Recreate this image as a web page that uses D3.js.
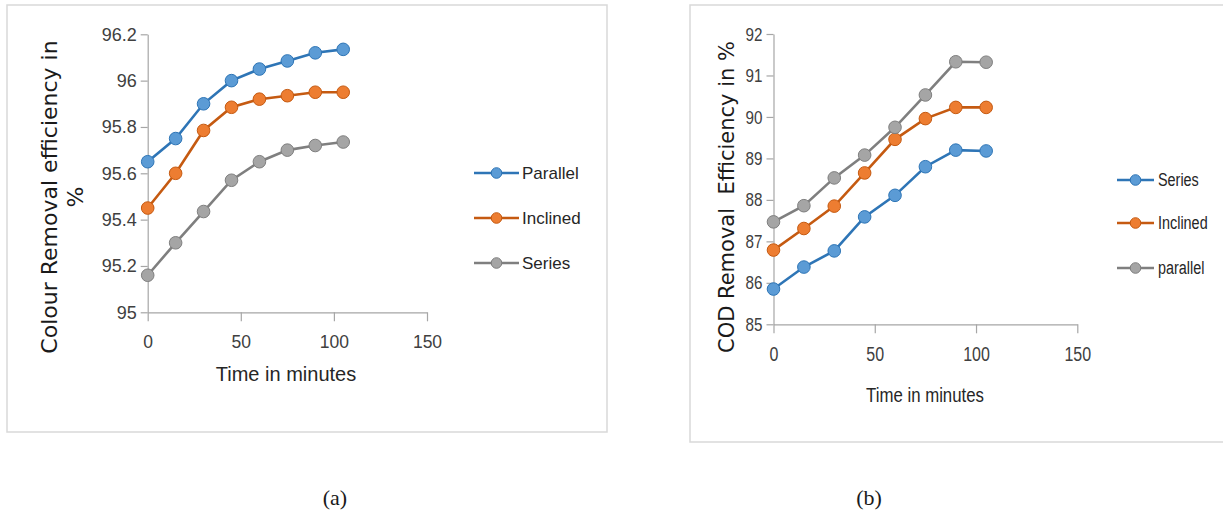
<!DOCTYPE html>
<html>
<head>
<meta charset="utf-8">
<script src="https://cdn.jsdelivr.net/npm/d3@7"></script>
<style>
  body { margin: 0; background: #fff; }
  svg text { white-space: pre; }
</style>
</head>
<body>
<script>
// time axis (minutes)
const timeMin = [0, 15, 30, 45, 60, 75, 90, 105];

// (a) colour removal efficiency, %
const colourParallel = [95.65, 95.75, 95.9, 96.0, 96.05, 96.085, 96.12, 96.135];
const colourInclined = [95.45, 95.6, 95.785, 95.885, 95.92, 95.935, 95.95, 95.95];
const colourSeries = [95.16, 95.3, 95.435, 95.57, 95.65, 95.7, 95.72, 95.735];

// (b) COD removal efficiency, %
const codSeries = [85.85, 86.38, 86.77, 87.59, 88.11, 88.8, 89.2, 89.18];
const codInclined = [86.79, 87.31, 87.85, 88.65, 89.46, 89.96, 90.23, 90.23];
const codParallel = [87.47, 87.86, 88.53, 89.08, 89.75, 90.53, 91.33, 91.32];

const xTicks = [0, 50, 100, 150];
const colourTicks = [95, 95.2, 95.4, 95.6, 95.8, 96, 96.2];
const codTicks = [85, 86, 87, 88, 89, 90, 91, 92];

const width = 1223, height = 517;

const blue = { line: '#2e75b6', fill: '#5b9bd5' };
const orange = { line: '#c55a11', fill: '#ed7d31' };
const grey = { line: '#7f7f7f', fill: '#a5a5a5' };

const sans = '"Liberation Sans", Arial, sans-serif';

let svg = d3
  .select('body')
  .append('svg')
  .attr('width', width)
  .attr('height', height)
  .style('background-color', '#fff');

// the (b) chart uses a condensed face; squeeze glyphs horizontally
function squeeze(sel, k) {
  if (k === 1) return;
  sel.each(function () {
    const w = this.getComputedTextLength();
    d3.select(this).attr('textLength', w * k).attr('lengthAdjust', 'spacingAndGlyphs');
  });
}

function drawPanel(p) {
  const g = svg.append('g');

  // outer frame of the chart area
  g.append('rect')
    .attr('x', p.frame[0])
    .attr('y', p.frame[1])
    .attr('width', p.frame[2])
    .attr('height', p.frame[3])
    .attr('fill', 'none')
    .attr('stroke', '#d9d9d9')
    .attr('stroke-width', 1.5);

  const x = d3.scaleLinear().domain([0, 150]).range(p.xRange);
  const y = d3.scaleLinear().domain(p.yDomain).range(p.yRange);

  const xAxis = g.append('g')
    .attr('transform', 'translate(0,' + p.yRange[0] + ')')
    .call(d3.axisBottom(x).tickValues(xTicks).tickSize(9).tickSizeOuter(0).tickPadding(p.xPad));
  const yAxis = g.append('g')
    .attr('transform', 'translate(' + p.xRange[0] + ',0)')
    .call(d3.axisLeft(y).tickValues(p.yTicks).tickSize(7).tickSizeOuter(0).tickPadding(p.yPad)
      .tickFormat(d => String(+d.toFixed(1))));

  [xAxis, yAxis].forEach(a => {
    a.selectAll('path, line').attr('stroke', '#a6a6a6').attr('stroke-width', 1.2);
    a.selectAll('text').attr('fill', '#404040').style('font-family', sans);
  });
  xAxis.selectAll('text').style('font-size', p.xTickSize + 'px');
  yAxis.selectAll('text').style('font-size', p.yTickSize + 'px');
  squeeze(xAxis.selectAll('text'), p.squeeze);
  squeeze(yAxis.selectAll('text'), p.squeeze);

  // axis titles
  const xt = g.append('text')
    .attr('x', p.xTitle[0])
    .attr('y', p.xTitle[1])
    .attr('text-anchor', 'middle')
    .attr('fill', '#262626')
    .style('font', p.xTitleSize + 'px ' + sans)
    .text('Time in minutes');
  squeeze(xt, p.squeeze);

  p.yTitle.forEach(t => {
    g.append('text')
      .attr('transform', 'translate(' + t.x + ',' + t.y + ') rotate(-90)')
      .attr('text-anchor', 'middle')
      .attr('fill', '#1a1a1a')
      .style('font', t.size + 'px "DejaVu Sans", Verdana, sans-serif')
      .text(t.label);
  });

  const line = d3.line().x((d, i) => x(timeMin[i])).y(d => y(d));

  p.series.forEach(s => {
    g.append('path')
      .datum(s.values)
      .attr('d', line)
      .attr('fill', 'none')
      .attr('stroke', s.color.line)
      .attr('stroke-width', 2.6);
    g.selectAll(null)
      .data(s.values)
      .enter()
      .append('circle')
      .attr('cx', (d, i) => x(timeMin[i]))
      .attr('cy', d => y(d))
      .attr('r', 6.3)
      .attr('fill', s.color.fill)
      .attr('stroke', s.color.line)
      .attr('stroke-width', 1);
  });

  // legend
  p.series.forEach((s, i) => {
    const ly = p.legend.rows[i];
    const lg = g.append('g');
    lg.append('line')
      .attr('x1', p.legend.x1)
      .attr('x2', p.legend.x2)
      .attr('y1', ly)
      .attr('y2', ly)
      .attr('stroke', s.color.line)
      .attr('stroke-width', 2.6);
    lg.append('circle')
      .attr('cx', (p.legend.x1 + p.legend.x2) / 2)
      .attr('cy', ly)
      .attr('r', 5.3)
      .attr('fill', s.color.fill)
      .attr('stroke', s.color.line)
      .attr('stroke-width', 1);
    const lt = lg.append('text')
      .attr('x', p.legend.tx)
      .attr('y', ly)
      .attr('dy', '0.35em')
      .attr('fill', '#262626')
      .style('font', p.legend.size + 'px ' + sans)
      .text(s.name);
    squeeze(lt, p.squeeze);
  });
}

// (a)
drawPanel({
  frame: [7, 5, 600, 427],
  xRange: [147.7, 427],
  yDomain: [95, 96.2],
  yRange: [312.3, 34.3],
  yTicks: colourTicks,
  squeeze: 1,
  xTickSize: 17.5,
  yTickSize: 18,
  xPad: 14,
  yPad: 4,
  xTitle: [286, 381],
  xTitleSize: 20,
  yTitle: [
    { x: 57, y: 197, size: 22, label: 'Colour Removal efficiency in' },
    { x: 83, y: 197, size: 22, label: '%' }
  ],
  series: [
    { name: 'Parallel', values: colourParallel, color: blue },
    { name: 'Inclined', values: colourInclined, color: orange },
    { name: 'Series', values: colourSeries, color: grey }
  ],
  legend: { rows: [173, 218, 263], x1: 474, x2: 519, tx: 522, size: 17 }
});

// (b)
drawPanel({
  frame: [690, 5, 545, 437],
  xRange: [773.5, 1077.3],
  yDomain: [85, 92],
  yRange: [324.3, 34],
  yTicks: codTicks,
  squeeze: 0.8,
  xTickSize: 20,
  yTickSize: 19,
  xPad: 14,
  yPad: 4,
  xTitle: [925, 402],
  xTitleSize: 21,
  yTitle: [
    { x: 734, y: 197, size: 21, label: 'COD Removal  Efficiency in %' }
  ],
  series: [
    { name: 'Series', values: codSeries, color: blue },
    { name: 'Inclined', values: codInclined, color: orange },
    { name: 'parallel', values: codParallel, color: grey }
  ],
  legend: { rows: [180, 223, 268], x1: 1117, x2: 1154, tx: 1158, size: 18 }
});

// panel captions
svg.selectAll('.caption')
  .data([{ t: '(a)', x: 335 }, { t: '(b)', x: 869 }])
  .enter()
  .append('text')
  .attr('class', 'caption')
  .attr('x', d => d.x)
  .attr('y', 505)
  .attr('text-anchor', 'middle')
  .attr('fill', '#1a1a1a')
  .style('font', '22px "Liberation Serif", "DejaVu Serif", serif')
  .text(d => d.t);
</script>
</body>
</html>
